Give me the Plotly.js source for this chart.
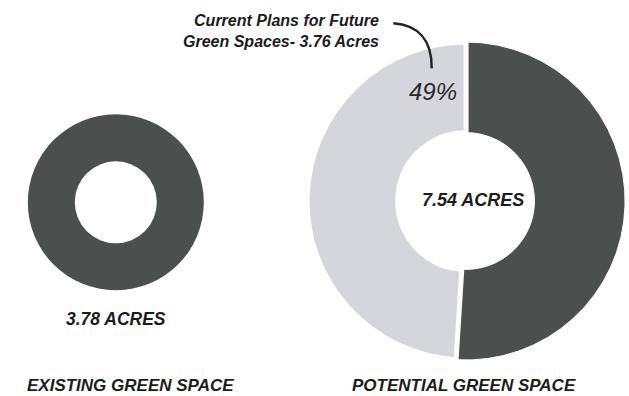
<!DOCTYPE html>
<html>
<head>
<meta charset="utf-8">
<script src="https://cdn.plot.ly/plotly-3.0.1.min.js"></script>
<style>
  html, body { margin: 0; padding: 0; background: #ffffff; }
  #chart { width: 629px; height: 396px; }
</style>
</head>
<body>
<div id="chart"></div>
<script>
// Green space figures (acres)
const existingLabels = ['Existing green space'];
const existingAcres = [3.78];

const potentialLabels = ['Existing green space', 'Current plans for future green spaces'];
const potentialAcres = [3.78, 3.76];
const potentialShare = [51, 49];   // percent of potential total

const panelTitles = ['EXISTING GREEN SPACE', 'POTENTIAL GREEN SPACE'];

const DARK = '#4b504f';
const LIGHT = '#d4d6dc';
const INK = '#1c1c1c';
const FONT = 'Liberation Sans, Arial, sans-serif';

const totalPotential = potentialAcres.reduce((a, b) => a + b, 0);

const existingTrace = {
  type: 'pie',
  labels: existingLabels,
  values: existingAcres,
  hole: 0.466,
  sort: false,
  direction: 'clockwise',
  rotation: 0,
  textinfo: 'none',
  hoverinfo: 'label+value',
  marker: { colors: [DARK], line: { width: 0 } },
  domain: { x: [0.0442, 0.3240], y: [0.2669, 0.7113] },
  showlegend: false
};

const potentialTrace = {
  type: 'pie',
  labels: potentialLabels,
  values: potentialShare,
  hole: 0.43,
  sort: false,
  direction: 'clockwise',
  rotation: 0,
  textinfo: 'none',
  hoverinfo: 'label+percent',
  marker: { colors: [DARK, LIGHT], line: { color: '#ffffff', width: [1, 5] } },
  domain: { x: [0.488, 0.994], y: [0.0909, 0.8939] },
  showlegend: false
};

const bold = (size) => ({ family: FONT, size: size, color: INK, weight: 700, style: 'italic' });

const layout = {
  width: 629,
  height: 396,
  margin: { l: 0, r: 0, t: 0, b: 0 },
  paper_bgcolor: '#ffffff',
  plot_bgcolor: '#ffffff',
  showlegend: false,
  annotations: [
    // centre / under-ring totals
    { x: 472.5 / 629, y: 1 - 199.5 / 396, xref: 'paper', yref: 'paper', showarrow: false,
      text: totalPotential.toFixed(2) + ' ACRES', font: bold(18), xanchor: 'center', yanchor: 'middle' },
    { x: 116 / 629, y: 1 - 318.5 / 396, xref: 'paper', yref: 'paper', showarrow: false,
      text: existingAcres[0].toFixed(2) + ' ACRES', font: bold(17.5), xanchor: 'center', yanchor: 'middle' },
    // panel captions
    { x: 130 / 629, y: 1 - 385 / 396, xref: 'paper', yref: 'paper', showarrow: false,
      text: panelTitles[0], font: bold(17), xanchor: 'center', yanchor: 'middle' },
    { x: 464 / 629, y: 1 - 385 / 396, xref: 'paper', yref: 'paper', showarrow: false,
      text: panelTitles[1], font: bold(17), xanchor: 'center', yanchor: 'middle' },
    // callout for the planned share
    { x: 381 / 629, y: 1 - 31 / 396, xref: 'paper', yref: 'paper', showarrow: false,
      text: 'Current Plans for Future<br>Green Spaces- ' + potentialAcres[1].toFixed(2) + ' Acres',
      font: bold(16), align: 'right', xanchor: 'right', yanchor: 'middle' },
    { x: 433 / 629, y: 1 - 92 / 396, xref: 'paper', yref: 'paper', showarrow: false,
      text: potentialShare[1] + '%', font: { family: FONT, size: 24, color: '#2a2a2a', style: 'italic' },
      xanchor: 'center', yanchor: 'middle' }
  ],
  shapes: [
    { type: 'path', xref: 'paper', yref: 'paper',
      path: 'M 0.6253 0.9412 C 0.6645 0.9369, 0.6868 0.8990, 0.6863 0.8275',
      line: { color: '#222222', width: 2.5 } }
  ]
};

Plotly.newPlot('chart', [existingTrace, potentialTrace], layout, { displayModeBar: false, staticPlot: true });
</script>
</body>
</html>
